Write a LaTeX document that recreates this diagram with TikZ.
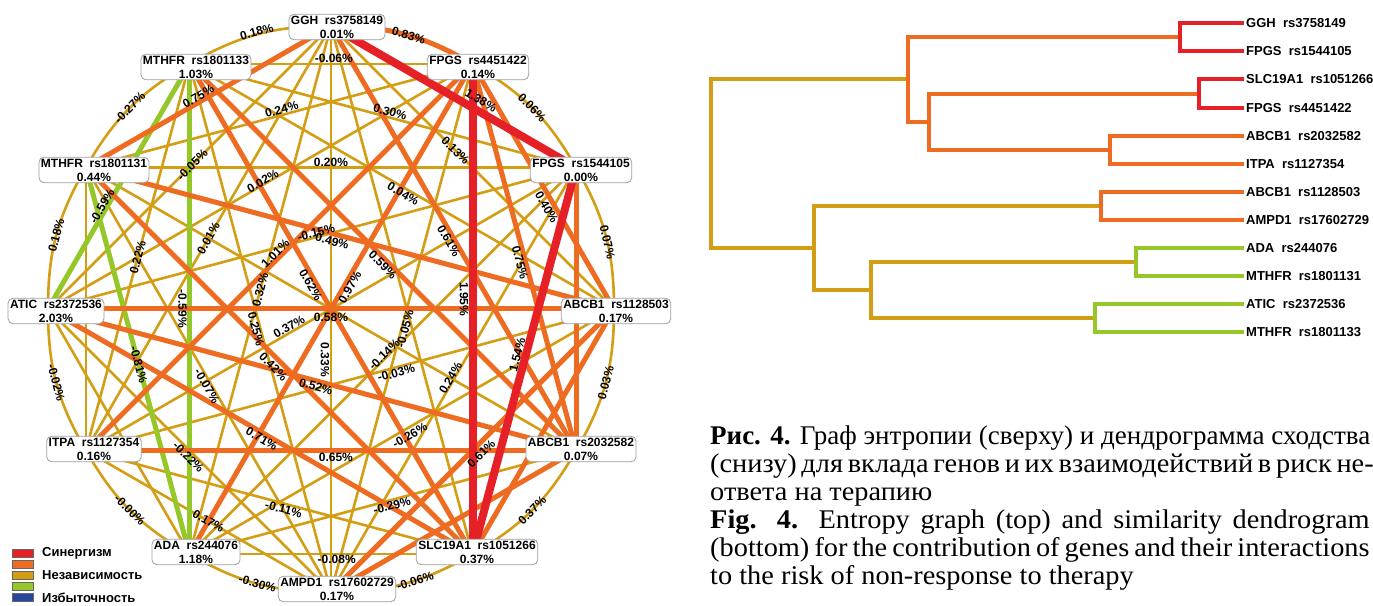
\documentclass[tikz,border=0pt]{standalone}
\usepackage{fontspec}
\usepackage{graphicx}
\setmainfont{Liberation Serif}
\newfontfamily\gsans{Liberation Sans}
\definecolor{cRed}{RGB}{229,33,39}
\definecolor{cOra}{RGB}{238,108,34}
\definecolor{cGold}{RGB}{211,158,20}
\definecolor{cGreen}{RGB}{150,199,40}
\definecolor{cBlue}{RGB}{40,70,160}
\tikzset{
  ered/.style={draw=cRed, line width=8pt},
  eora/.style={draw=cOra, line width=5pt},
  egold/.style={draw=cGold, line width=2.6pt},
  egreen/.style={draw=cGreen, line width=5pt},
  lab/.style={font=\gsans\bfseries\fontsize{12}{14}\selectfont, sloped, inner sep=1pt},
  vlab/.style={font=\gsans\bfseries\fontsize{12}{14}\selectfont, rotate=-90, anchor=north, inner sep=1.5pt},
  gbox/.style={draw=gray!75, fill=white, rounded corners=5pt, line width=0.8pt, align=center,
    font=\gsans\bfseries\fontsize{12}{14}\selectfont, inner xsep=2pt, inner ysep=1.5pt},
  dline/.style={line width=4pt, line join=miter},
  leaf/.style={anchor=west, inner xsep=2pt, inner ysep=0pt, font=\gsans\bfseries\fontsize{13}{15}\selectfont},
  legbox/.style={draw=black!60, line width=0.6pt, minimum width=21pt, minimum height=8pt, inner sep=0pt},
  legtxt/.style={anchor=west, inner sep=0pt, font=\gsans\bfseries\fontsize{13}{15}\selectfont},
  captxt/.style={anchor=base west, inner sep=0pt, font=\fontsize{27}{28}\selectfont},
}
\newcommand\capline[1]{\scalebox{1.05}[1]{\makebox[628pt][s]{#1}}}
\newcommand\capfirst[1]{\makebox[660pt][s]{#1}}
\newcommand\caplast[1]{\scalebox{1.05}[1]{#1}}
\newcommand\modeLines{%
  \def\gE##1##2##3##4##5##6{\draw[##1] (##2) -- (##3);}%
  \def\gA##1##2##3##4##5##6{\draw[##1] (##2) to[bend left=15] (##3);}%
  \def\gN##1##2##3{\draw[##1] (##2) -- (##3);}%
}
\newcommand\modeLabels{%
  \def\gE##1##2##3##4##5##6{\path (##2) -- node[##6,pos=##4]{##5\%} (##3);}%
  \def\gA##1##2##3##4##5##6{\path (##2) to[bend left=15] node[##6,pos=##4]{##5\%} (##3);}%
  \def\gN##1##2##3{}%
}
\newcommand\goldEdges{%
  \gA{egold}{g1}{g2}{.5}{0.06}{lab}
  \gA{egold}{g2}{g3}{.55}{0.07}{lab}
  \gA{egold}{g3}{g4}{.5}{0.03}{lab}
  \gA{egold}{g4}{g5}{.5}{0.37}{lab}
  \gA{egold}{g5}{g6}{.42}{-0.06}{lab}
  \gA{egold}{g6}{g7}{.5}{-0.30}{lab}
  \gA{egold}{g7}{g8}{.5}{-0.00}{lab}
  \gA{egold}{g8}{g9}{.5}{-0.02}{lab}
  \gA{egold}{g9}{g10}{.5}{0.18}{lab}
  \gA{egold}{g10}{g11}{.5}{-0.27}{lab}
  \gA{egold}{g11}{g0}{.5}{0.18}{lab,above=-3pt}
  \gE{egold}{g5}{g7}{.48}{-0.08}{lab,below}
  \gE{egold}{g6}{g8}{.5}{0.17}{lab}
  \gN{egold}{g7}{g9}
  \gN{egold}{g8}{g10}
  \gE{egold}{g11}{g1}{.51}{-0.06}{lab,above}
  \gE{egold}{g0}{g3}{.44}{0.13}{lab}
  \gE{egold}{g4}{g7}{.48}{-0.29}{lab,below}
  \gE{egold}{g5}{g8}{.485}{-0.11}{lab,below}
  \gE{egold}{g6}{g9}{.49}{-0.22}{lab,below}
  \gE{egold}{g8}{g11}{.5}{0.22}{lab}
  \gE{egold}{g9}{g0}{.51}{-0.05}{lab}
  \gE{egold}{g10}{g1}{.51}{0.24}{lab,above}
  \gE{egold}{g11}{g2}{.515}{0.30}{lab,above}
  \gE{egold}{g2}{g6}{.5}{0.24}{lab,above=-2pt}
  \gE{egold}{g3}{g7}{.49}{-0.26}{lab,below=2pt}
  \gE{egold}{g6}{g10}{.49}{-0.07}{lab,below=-1pt}
  \gE{egold}{g8}{g0}{.5}{0.01}{lab}
  \gE{egold}{g9}{g1}{.51}{0.02}{lab,above=-2pt}
  \gE{egold}{g10}{g2}{.5}{0.20}{lab,above}
  \gE{egold}{g11}{g3}{.51}{0.04}{lab,below}
  \gN{egold}{g0}{g5}
  \gE{egold}{g1}{g6}{.5}{-0.05}{lab,below=-2pt}
  \gE{egold}{g2}{g7}{.49}{-0.14}{lab,above=-2pt}
  \gE{egold}{g3}{g8}{.415}{-0.03}{lab,below}
  \gE{egold}{g6}{g11}{.5}{0.25}{lab,below=-1pt}
  \gE{egold}{g7}{g0}{.5}{0.32}{lab}
  \gE{egold}{g9}{g2}{.51}{-0.15}{lab,above=-1pt}
  \gE{egold}{g0}{g6}{.59}{0.33}{vlab}
  \gE{egold}{g2}{g8}{.58}{0.37}{lab,above}
  \gN{egold}{g4}{g10}
}
\newcommand\greenEdges{%
  \gE{egreen}{g9}{g11}{.41}{-0.59}{lab,above=-1pt}
  \gE{egreen}{g7}{g10}{.49}{-0.81}{lab}
  \gE{egreen}{g11}{g7}{.5}{-0.59}{vlab,inner sep=2.5pt}
}
\newcommand\oraEdges{%
  \gA{eora}{g0}{g1}{.53}{0.83}{lab}
  \gE{eora}{g1}{g3}{.57}{0.40}{lab,below=2pt}
  \gN{eora}{g2}{g4}
  \gN{eora}{g3}{g5}
  \gN{eora}{g4}{g6}
  \gE{eora}{g10}{g0}{.47}{0.75}{lab,above}
  \gE{eora}{g1}{g4}{.51}{0.75}{lab,below}
  \gE{eora}{g3}{g6}{.49}{0.61}{lab,below=3pt}
  \gE{eora}{g0}{g4}{.5}{0.61}{lab,below}
  \gE{eora}{g4}{g8}{.49}{0.65}{lab,below=1pt}
  \gE{eora}{g5}{g9}{.49}{0.71}{lab,below}
  \gE{eora}{g4}{g9}{.49}{0.52}{lab,below}
  \gE{eora}{g5}{g10}{.5}{0.42}{lab,below=3pt}
  \gE{eora}{g8}{g1}{.5}{1.01}{lab,above}
  \gE{eora}{g10}{g3}{.47}{0.49}{lab,below=2pt}
  \gE{eora}{g11}{g4}{.51}{0.59}{lab,below}
  \gE{eora}{g1}{g7}{.45}{0.97}{lab,below}
  \gE{eora}{g3}{g9}{.5}{0.58}{lab,below=3pt}
  \gE{eora}{g5}{g11}{.555}{0.62}{lab,below}
}
\newcommand\redEdges{%
  \gE{ered}{g0}{g2}{.59}{1.38}{lab,above=5pt}
  \gE{ered}{g2}{g5}{.49}{1.54}{lab,above=3pt}
  \gE{ered}{g1}{g5}{.48}{1.95}{vlab,inner sep=4pt}
}
\begin{document}
\begin{tikzpicture}[x=1pt,y=1pt]
\fill[white] (0,0) rectangle (1373,605);
\useasboundingbox (0,0) rectangle (1373,605);
% ---------- entropy graph ----------
\coordinate (O) at (331,296);
\foreach \i/\a in {0/90,1/60,2/30,3/0,4/-30,5/-60,6/-90,7/-120,8/-150,9/180,10/150,11/120}
  {\path (O) ++(\a:283) coordinate (g\i);}
\modeLines
\goldEdges \greenEdges \oraEdges \redEdges
\modeLabels
\goldEdges \greenEdges \oraEdges \redEdges
\node[gbox] (n0)  at (337,578) {GGH~~rs3758149\\0.01\%};
\node[gbox] (n1)  at (478,538) {FPGS~~rs4451422\\0.14\%};
\node[gbox] (n2)  at (581,435) {FPGS~~rs1544105\\0.00\%};
\node[gbox] (n3)  at (616,294) {ABCB1~~rs1128503\\0.17\%};
\node[gbox] (n4)  at (581,156) {ABCB1~~rs2032582\\0.07\%};
\node[gbox] (n5)  at (477,53)  {SLC19A1~~rs1051266\\0.37\%};
\node[gbox] (n6)  at (337,16)  {AMPD1~~rs17602729\\0.17\%};
\node[gbox] (n7)  at (196,53)  {ADA~~rs244076\\1.18\%};
\node[gbox] (n8)  at (94,156)  {ITPA~~rs1127354\\0.16\%};
\node[gbox] (n9)  at (56,294)  {ATIC~~rs2372536\\2.03\%};
\node[gbox] (n10) at (94,435)  {MTHFR~~rs1801131\\0.44\%};
\node[gbox] (n11) at (196,538) {MTHFR~~rs1801133\\1.03\%};
% ---------- legend ----------
\node[legbox, fill=cRed]   (k1) at (22.5,52) {};
\node[legbox, fill=cOra]   (k2) at (22.5,41) {};
\node[legbox, fill=cGold]  (k3) at (22.5,30) {};
\node[legbox, fill=cGreen] (k4) at (22.5,19) {};
\node[legbox, fill=cBlue]  (k5) at (22.5,7.5) {};
\node[legtxt] (t1) at (42,52)  {Синергизм};
\node[legtxt] (t3) at (42,30)  {Независимость};
\node[legtxt] (t5) at (42,7.5) {Избыточность};
% ---------- dendrogram ----------
\node[leaf] (l1)  at (1244,581.7) {GGH~~rs3758149};
\node[leaf] (l2)  at (1244,553.6) {FPGS~~rs1544105};
\node[leaf] (l3)  at (1244,525.5) {SLC19A1~~rs1051266};
\node[leaf] (l4)  at (1244,497.4) {FPGS~~rs4451422};
\node[leaf] (l5)  at (1244,469.3) {ABCB1~~rs2032582};
\node[leaf] (l6)  at (1244,441.3) {ITPA~~rs1127354};
\node[leaf] (l7)  at (1244,413.2) {ABCB1~~rs1128503};
\node[leaf] (l8)  at (1244,385.1) {AMPD1~~rs17602729};
\node[leaf] (l9)  at (1244,357.0) {ADA~~rs244076};
\node[leaf] (l10) at (1244,328.9) {MTHFR~~rs1801131};
\node[leaf] (l11) at (1244,300.8) {ATIC~~rs2372536};
\node[leaf] (l12) at (1244,272.7) {MTHFR~~rs1801133};
\coordinate (A) at (1180,567.65);
\coordinate (B) at (1199,511.45);
\coordinate (C) at (1110,455.3);
\coordinate (D) at (1101,399.15);
\coordinate (E) at (1136,342.95);
\coordinate (F) at (1095,286.75);
\coordinate (G) at (929,483.4);
\coordinate (H) at (908,525.5);
\coordinate (I) at (871,314.85);
\coordinate (J) at (813.6,357);
\coordinate (R) at (711,441.25);
\draw[dline, cGold]  (H) -| (R) |- (J);
\draw[dline, cGold]  (D) -| (J) |- (I);
\draw[dline, cGold]  (E) -| (I) |- (F);
\draw[dline, cOra]   (A) -| (H) |- (G);
\draw[dline, cOra]   (B) -| (G) |- (C);
\draw[dline, cRed]   (l1.west) -| (A) |- (l2.west);
\draw[dline, cRed]   (l3.west) -| (B) |- (l4.west);
\draw[dline, cOra]   (l5.west) -| (C) |- (l6.west);
\draw[dline, cOra]   (l7.west) -| (D) |- (l8.west);
\draw[dline, cGreen] (l9.west) -| (E) |- (l10.west);
\draw[dline, cGreen] (l11.west) -| (F) |- (l12.west);
% ---------- caption ----------
\node[captxt] (c1) at (710,160) {\capfirst{\textbf{Рис. 4.} Граф энтропии (сверху) и дендрограмма сходства}};
\node[captxt] (c2) at (710,132) {\capline{(снизу) для вклада генов и их взаимодействий в риск не-}};
\node[captxt] (c3) at (710,104.5) {\caplast{ответа на терапию}};
\node[captxt] (c4) at (710,76.5) {\capline{\textbf{Fig. 4.} Entropy graph (top) and similarity dendrogram}};
\node[captxt] (c5) at (710,48.5) {\capline{(bottom) for the contribution of genes and their interactions}};
\node[captxt] (c6) at (710,20) {\caplast{to the risk of non-response to therapy}};
\end{tikzpicture}
\end{document}
